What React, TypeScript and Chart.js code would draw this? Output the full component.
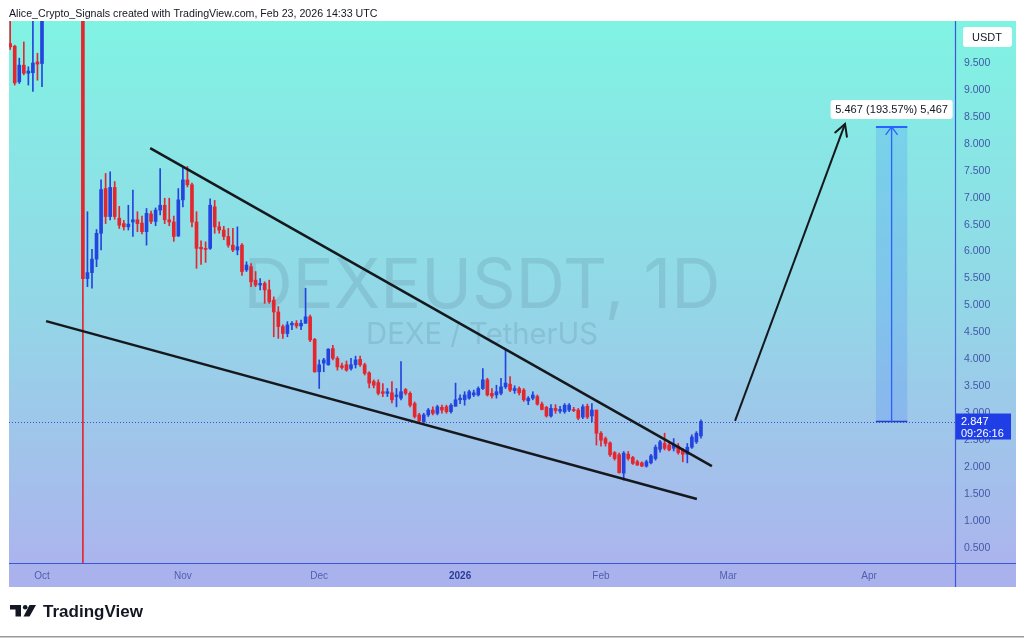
import React, { useEffect, useRef } from "react";
import { Chart, registerables } from "chart.js";

Chart.register(...registerables);

// ---- data (day offsets are counted from 2025-10-01) ----
const FIRST_DAY = -7;
const opens = [
  9.86, 9.81, 9.15, 9.46, 9.31, 9.32, 9.52, 9.49,
  10.9, 11.1, 11.6, 11.4, 11.7, 12.0, 11.6, 11.9,
  11.6,
  5.50, 5.61, 5.86, 6.34, 7.17, 6.65, 7.19, 6.62, 6.52, 6.46,
  6.55, 6.59, 6.53, 6.37, 6.70, 6.56, 6.77, 6.86, 6.59, 6.55,
  6.29, 6.96, 7.33, 7.24, 6.55, 6.08, 6.06, 6.06, 6.83, 6.46,
  6.40, 6.28, 6.12, 6.03, 6.12, 5.66, 5.72, 5.47, 5.38, 5.41,
  5.29, 5.10, 4.88, 4.61, 4.48, 4.64, 4.67, 4.62, 4.67, 4.79,
  4.37, 3.77, 3.93, 3.90, 4.20, 4.02, 3.88, 3.90, 3.83, 3.90,
  4.00, 3.90, 3.75, 3.59, 3.57, 3.40, 3.37, 3.38, 3.31, 3.28,
  3.44, 3.37, 3.18, 2.97, 2.84, 2.97, 3.06, 3.00, 3.11, 3.12,
  3.03, 3.13, 3.25, 3.25, 3.28, 3.34, 3.34, 3.46, 3.62, 3.37,
  3.34, 3.37, 3.49, 3.54, 3.42, 3.46, 3.43, 3.23, 3.28, 3.31,
  3.17, 3.11, 2.95, 3.09, 3.04, 3.03, 3.06, 3.07, 3.06, 2.93,
  3.13, 2.95, 3.06, 2.63, 2.53, 2.45, 2.27, 2.23, 1.89, 2.24,
  2.18, 2.10, 2.08, 2.02, 2.08, 2.16, 2.33, 2.44, 2.41, 2.35,
  2.39, 2.32, 2.24, 2.37, 2.47, 2.58,
];
const highs = [
  10.4, 9.83, 9.59, 9.89, 9.43, 10.4, 9.68, 11.2,
  11.4, 11.8, 12.0, 11.9, 12.3, 12.4, 12.1, 12.2,
  11.9,
  6.74, 6.04, 6.41, 7.33, 7.45, 7.48, 7.30, 6.84, 6.58, 6.86,
  7.14, 6.74, 6.66, 6.80, 6.75, 6.81, 7.54, 6.99, 6.99, 6.66,
  7.17, 7.58, 7.58, 7.27, 6.74, 6.20, 6.18, 6.98, 6.95, 6.55,
  6.47, 6.43, 6.43, 6.46, 6.15, 5.81, 5.78, 5.63, 5.50, 5.44,
  5.47, 5.16, 4.98, 4.64, 4.70, 4.70, 4.72, 4.73, 5.32, 4.82,
  4.39, 3.99, 4.02, 4.20, 4.26, 4.05, 3.93, 3.97, 4.02, 4.06,
  4.06, 3.93, 3.77, 3.62, 3.62, 3.55, 3.46, 3.59, 3.46, 3.96,
  3.46, 3.40, 3.21, 3.00, 3.00, 3.09, 3.12, 3.15, 3.15, 3.15,
  3.18, 3.56, 3.34, 3.40, 3.43, 3.43, 3.49, 3.83, 3.65, 3.46,
  3.52, 3.65, 4.17, 3.68, 3.51, 3.49, 3.46, 3.31, 3.40, 3.34,
  3.21, 3.13, 3.16, 3.16, 3.13, 3.18, 3.18, 3.11, 3.09, 3.16,
  3.17, 3.18, 3.06, 2.66, 2.56, 2.47, 2.29, 2.26, 2.29, 2.29,
  2.20, 2.13, 2.10, 2.13, 2.24, 2.41, 2.50, 2.63, 2.47, 2.53,
  2.44, 2.35, 2.44, 2.60, 2.66, 2.88,
];
const lows = [
  9.75, 9.09, 9.12, 9.28, 9.09, 8.97, 9.18, 9.06,
  10.5, 10.9, 11.2, 11.0, 11.5, 11.4, 11.3, 11.4,
  0.15,
  5.35, 5.32, 5.72, 6.03, 6.52, 6.59, 6.60, 6.43, 6.40, 6.40,
  6.28, 6.37, 6.33, 6.12, 6.52, 6.48, 6.68, 6.52, 6.48, 6.19,
  6.28, 6.83, 7.20, 6.46, 5.69, 5.76, 5.80, 6.04, 6.34, 6.34,
  6.22, 6.08, 6.00, 5.94, 5.56, 5.63, 5.35, 5.35, 5.29, 5.04,
  5.04, 4.42, 4.39, 4.39, 4.42, 4.55, 4.58, 4.55, 4.67, 4.33,
  3.76, 3.46, 3.77, 3.89, 3.99, 3.80, 3.82, 3.78, 3.80, 3.84,
  3.87, 3.71, 3.47, 3.47, 3.34, 3.31, 3.31, 3.19, 3.12, 3.25,
  3.34, 3.12, 2.91, 2.84, 2.81, 2.94, 2.97, 2.97, 3.00, 3.00,
  3.00, 3.13, 3.18, 3.15, 3.26, 3.31, 3.32, 3.44, 3.32, 3.28,
  3.28, 3.34, 3.46, 3.40, 3.37, 3.34, 3.22, 3.16, 3.25, 3.15,
  3.06, 2.93, 2.93, 3.00, 3.00, 3.00, 3.03, 3.03, 2.88, 2.90,
  2.90, 2.84, 2.41, 2.39, 2.39, 2.20, 2.13, 1.89, 1.76, 2.13,
  2.05, 2.03, 2.01, 2.00, 2.06, 2.13, 2.28, 2.32, 2.30, 2.30,
  2.24, 2.10, 2.08, 2.35, 2.44, 2.54,
];
const closes = [
  9.80, 9.13, 9.46, 9.31, 9.35, 9.50, 9.48, 10.9,
  11.1, 11.6, 11.4, 11.7, 12.0, 11.6, 11.9, 11.6,
  5.50,
  5.61, 5.86, 6.34, 7.15, 6.65, 7.19, 6.65, 6.49, 6.46, 6.51,
  6.59, 6.52, 6.37, 6.71, 6.56, 6.77, 6.86, 6.59, 6.55, 6.28,
  6.96, 7.33, 7.24, 6.55, 6.06, 6.05, 6.04, 6.86, 6.46, 6.40,
  6.28, 6.12, 6.03, 6.09, 5.63, 5.75, 5.44, 5.38, 5.41, 5.29,
  5.07, 4.88, 4.61, 4.48, 4.64, 4.67, 4.62, 4.67, 4.79, 4.36,
  3.77, 3.90, 3.99, 4.19, 4.02, 3.86, 3.85, 3.80, 3.90, 3.99,
  3.90, 3.74, 3.56, 3.52, 3.37, 3.37, 3.40, 3.25, 3.34, 3.40,
  3.37, 3.15, 2.94, 2.86, 2.97, 3.06, 3.00, 3.12, 3.06, 3.03,
  3.15, 3.25, 3.28, 3.34, 3.40, 3.38, 3.46, 3.62, 3.34, 3.32,
  3.40, 3.49, 3.56, 3.43, 3.46, 3.38, 3.25, 3.28, 3.34, 3.17,
  3.07, 2.95, 3.09, 3.05, 3.07, 3.15, 3.15, 3.05, 2.91, 3.12,
  2.93, 3.06, 2.63, 2.50, 2.44, 2.23, 2.16, 1.90, 2.26, 2.16,
  2.07, 2.04, 2.02, 2.10, 2.21, 2.37, 2.47, 2.35, 2.32, 2.41,
  2.27, 2.24, 2.37, 2.56, 2.63, 2.847,
];

const monthTickDays = [0, 31, 61, 92, 123, 151, 182];
const monthTickLabels = ["Oct", "Nov", "Dec", "2026", "Feb", "Mar", "Apr"];
const priceTicks = [0.5, 1, 1.5, 2, 2.5, 3, 3.5, 4, 4.5, 5, 5.5, 6, 6.5, 7, 7.5, 8, 8.5, 9, 9.5];

const upperTrendline = [{ x: 23.8, y: 7.92 }, { x: 147.4, y: 2.02 }];
const lowerTrendline = [{ x: 0.9, y: 4.71 }, { x: 144.1, y: 1.41 }];
const projectionArrow = [{ x: 152.5, y: 2.86 }, { x: 176.7, y: 8.37 }];
const measureDays = [183.5, 190.4];
const measureFrom = 2.847;
const measureTo = 8.314;
const lastPrice = 2.847;
const countdown = "09:26:16";
const measureLabel = "5.467 (193.57%) 5,467";
const headerText = "Alice_Crypto_Signals created with TradingView.com, Feb 23, 2026 14:33 UTC";
const symbolText = "DEXEUSDT, 1D";
const pairText = "DEXE / TetherUS";
const unitText = "USDT";
const brandText = "TradingView";

const X_MIN = -7.26;
const X_MAX = 200.9;
const Y_MIN = 0.2217;
const Y_MAX = 10.279;

const UP = "#2444df";
const DOWN = "#e4262e";
const AXIS_LINE = "#3b56d9";
const FONT = "'Liberation Sans', Arial, sans-serif";

function fitSize(ctx: CanvasRenderingContext2D, text: string, width: number, weight: string, family: string) {
  ctx.font = `${weight} 100px ${family}`;
  const w = ctx.measureText(text).width;
  return (100 * width) / w;
}

function rrect(ctx: CanvasRenderingContext2D, x: number, y: number, w: number, h: number, r: number) {
  ctx.beginPath();
  ctx.moveTo(x + r, y);
  ctx.lineTo(x + w - r, y);
  ctx.quadraticCurveTo(x + w, y, x + w, y + r);
  ctx.lineTo(x + w, y + h - r);
  ctx.quadraticCurveTo(x + w, y + h, x + w - r, y + h);
  ctx.lineTo(x + r, y + h);
  ctx.quadraticCurveTo(x, y + h, x, y + h - r);
  ctx.lineTo(x, y + r);
  ctx.quadraticCurveTo(x, y, x + r, y);
  ctx.closePath();
}

export default function App() {
  const ref = useRef<HTMLCanvasElement>(null);

  useEffect(() => {
    const canvas = ref.current;
    if (!canvas) return;
    const days = opens.map((_, i) => FIRST_DAY + i);
    const colors = days.map((_, i) => (closes[i] >= opens[i] ? UP : DOWN));
    const wickData = days.map((d, i) => ({ x: d, y: [lows[i], highs[i]] }));
    const bodyData = days.map((d, i) => ({ x: d, y: [opens[i], closes[i]] }));

    const decor = {
      id: "decor",
      beforeDraw(chart: any) {
        const { ctx, chartArea: ca } = chart;
        const xs = chart.scales.x;
        const ys = chart.scales.y;
        ctx.save();
        ctx.fillStyle = "#ffffff";
        ctx.fillRect(0, 0, chart.width, chart.height);
        const g = ctx.createLinearGradient(0, ca.top, 0, xs.bottom);
        g.addColorStop(0, "#80f3e3");
        g.addColorStop(0.5, "#93d7e7");
        g.addColorStop(1, "#aeb1ee");
        ctx.fillStyle = g;
        ctx.fillRect(ca.left, ca.top, ys.right - ca.left, xs.bottom - ca.top);
        ctx.fillStyle = "#aab2ed";
        ctx.fillRect(ca.left, xs.top, ys.right - ca.left, xs.bottom - xs.top);
        ctx.restore();
      },
      beforeDatasetsDraw(chart: any) {
        const { ctx, chartArea: ca } = chart;
        const ys = chart.scales.y;
        const cx = (ca.left + ca.right) / 2;
        const cy = (ca.top + ca.bottom) / 2;
        ctx.save();
        ctx.fillStyle = "rgba(70,100,125,0.17)";
        ctx.textAlign = "center";
        ctx.textBaseline = "alphabetic";
        const s1 = fitSize(ctx, symbolText, 477, "normal", "Inter, 'Liberation Sans', sans-serif");
        ctx.font = `normal ${s1}px Inter, 'Liberation Sans', sans-serif`;
        ctx.fillText(symbolText, cx, cy + 16);
        const s2 = fitSize(ctx, pairText, 232, "normal", "Inter, 'Liberation Sans', sans-serif");
        ctx.font = `normal ${s2}px Inter, 'Liberation Sans', sans-serif`;
        ctx.fillText(pairText, cx, cy + 52);
        // last price dotted line
        const py = Math.round(ys.getPixelForValue(lastPrice)) + 0.5;
        ctx.strokeStyle = "#3050e0";
        ctx.lineWidth = 1;
        ctx.setLineDash([1, 2]);
        ctx.beginPath();
        ctx.moveTo(ca.left, py);
        ctx.lineTo(ca.right, py);
        ctx.stroke();
        ctx.restore();
      },
      afterDraw(chart: any) {
        const { ctx, chartArea: ca } = chart;
        const xs = chart.scales.x;
        const ys = chart.scales.y;
        const px = (d: number) => xs.getPixelForValue(d);
        const pyv = (v: number) => ys.getPixelForValue(v);
        ctx.save();

        // axis lines
        ctx.strokeStyle = AXIS_LINE;
        ctx.lineWidth = 1.2;
        ctx.beginPath();
        ctx.moveTo(ys.left + 0.5, ca.top);
        ctx.lineTo(ys.left + 0.5, xs.bottom);
        ctx.moveTo(ca.left, xs.top + 0.5);
        ctx.lineTo(ys.right, xs.top + 0.5);
        ctx.stroke();

        // measure tool
        const mx0 = px(measureDays[0]);
        const mx1 = px(measureDays[1]);
        const mTop = pyv(measureTo);
        const mBot = pyv(measureFrom);
        const mcx = (mx0 + mx1) / 2;
        ctx.fillStyle = "rgba(41,98,255,0.17)";
        ctx.fillRect(mx0, mTop, mx1 - mx0, mBot - mTop);
        ctx.strokeStyle = "#2962ff";
        ctx.lineWidth = 2;
        ctx.beginPath();
        ctx.moveTo(mx0, mTop);
        ctx.lineTo(mx1, mTop);
        ctx.stroke();
        ctx.strokeStyle = "#2040c8";
        ctx.lineWidth = 1.5;
        ctx.beginPath();
        ctx.moveTo(mx0, mBot);
        ctx.lineTo(mx1, mBot);
        ctx.stroke();
        ctx.strokeStyle = "#2962ff";
        ctx.lineWidth = 1.3;
        ctx.beginPath();
        ctx.moveTo(mcx, mBot);
        ctx.lineTo(mcx, mTop);
        ctx.moveTo(mcx - 6, mTop + 8);
        ctx.lineTo(mcx, mTop);
        ctx.lineTo(mcx + 6, mTop + 8);
        ctx.stroke();

        // measure label
        const ls = fitSize(ctx, measureLabel, 113, "normal", FONT);
        ctx.font = `normal ${ls}px ${FONT}`;
        const lw = 122;
        const lh = 19;
        ctx.fillStyle = "#ffffff";
        rrect(ctx, mcx - lw / 2, mTop - 8 - lh, lw, lh, 3);
        ctx.fill();
        ctx.fillStyle = "#131722";
        ctx.textAlign = "center";
        ctx.textBaseline = "middle";
        ctx.fillText(measureLabel, mcx, mTop - 8 - lh / 2 + 0.5);

        // arrowhead on projection arrow
        const ax0 = px(projectionArrow[0].x);
        const ay0 = pyv(projectionArrow[0].y);
        const ax1 = px(projectionArrow[1].x);
        const ay1 = pyv(projectionArrow[1].y);
        const ang = Math.atan2(ay1 - ay0, ax1 - ax0);
        const hl = 13;
        const spread = 0.5;
        ctx.strokeStyle = "#15181c";
        ctx.lineWidth = 2;
        ctx.lineCap = "round";
        ctx.beginPath();
        ctx.moveTo(ax1 - hl * Math.cos(ang - spread), ay1 - hl * Math.sin(ang - spread));
        ctx.lineTo(ax1, ay1);
        ctx.lineTo(ax1 - hl * Math.cos(ang + spread), ay1 - hl * Math.sin(ang + spread));
        ctx.stroke();

        // last price label on axis
        const lp = pyv(lastPrice);
        ctx.fillStyle = "#1f3ee6";
        ctx.fillRect(ys.left + 1, lp - 8, 55, 26);
        ctx.fillStyle = "#ffffff";
        ctx.textAlign = "left";
        ctx.textBaseline = "middle";
        ctx.font = `normal 11px ${FONT}`;
        ctx.fillText(lastPrice.toFixed(3), ys.left + 6, lp);
        ctx.fillText(countdown, ys.left + 6, lp + 12);

        // unit box
        ctx.fillStyle = "#ffffff";
        rrect(ctx, ys.left + 8, ca.top + 6, 49, 20, 3);
        ctx.fill();
        ctx.fillStyle = "#131722";
        ctx.textAlign = "center";
        ctx.font = `normal 11px ${FONT}`;
        ctx.fillText(unitText, ys.left + 32, ca.top + 16.5);

        // header
        const hs = fitSize(ctx, headerText, 369, "normal", FONT);
        ctx.font = `normal ${hs}px ${FONT}`;
        ctx.fillStyle = "#131722";
        ctx.textAlign = "left";
        ctx.textBaseline = "alphabetic";
        ctx.fillText(headerText, 9, 17);

        // footer brand
        ctx.fillStyle = "#131722";
        ctx.fillRect(10, 605, 11, 4.5);
        ctx.fillRect(15.5, 605, 5.5, 11.5);
        ctx.beginPath();
        ctx.arc(25.2, 607.2, 2.3, 0, Math.PI * 2);
        ctx.fill();
        ctx.beginPath();
        ctx.moveTo(29.5, 605);
        ctx.lineTo(36, 605);
        ctx.lineTo(29.5, 616.5);
        ctx.lineTo(23.5, 616.5);
        ctx.closePath();
        ctx.fill();
        const bs = fitSize(ctx, brandText, 100, "bold", FONT);
        ctx.font = `bold ${bs}px ${FONT}`;
        ctx.fillText(brandText, 43, 616.5);

        // bottom rule
        ctx.fillStyle = "#9a9a9a";
        ctx.fillRect(0, 636, chart.width, 1.5);
        ctx.restore();
      },
    };

    const chart = new Chart(canvas, {
      type: "bar",
      data: {
        datasets: [
          { type: "line", data: upperTrendline, borderColor: "#15181c", borderWidth: 2.5, pointRadius: 0, order: 0 } as any,
          { type: "line", data: lowerTrendline, borderColor: "#15181c", borderWidth: 2.5, pointRadius: 0, order: 0 } as any,
          { type: "line", data: projectionArrow, borderColor: "#15181c", borderWidth: 2, pointRadius: 0, order: 0 } as any,
          { type: "bar", data: wickData, backgroundColor: colors, barThickness: 1, grouped: false, borderWidth: 0, order: 2 } as any,
          { type: "bar", data: bodyData, backgroundColor: colors, barThickness: 3, grouped: false, borderWidth: 0, minBarLength: 1, order: 1 } as any,
        ],
      },
      options: {
        animation: false,
        responsive: false,
        maintainAspectRatio: false,
        layout: { padding: { left: 9, top: 21, right: 8, bottom: 51 } },
        plugins: { legend: { display: false }, tooltip: { enabled: false } },
        scales: {
          x: {
            type: "linear",
            min: X_MIN,
            max: X_MAX,
            offset: false,
            grid: { display: false, drawTicks: false, offset: false },
            border: { display: false },
            afterBuildTicks: (s: any) => {
              s.ticks = monthTickDays.map((v) => ({ value: v }));
            },
            afterFit: (s: any) => {
              s.height = 24;
            },
            ticks: {
              autoSkip: false,
              maxRotation: 0,
              padding: 7,
              color: (c: any) => (c.tick && c.tick.value === 92 ? "#2a3c96" : "#4f60ae"),
              font: (c: any) => ({ family: FONT, size: 10, weight: c.tick && c.tick.value === 92 ? "bold" : "normal" }),
              callback: (v: any) => {
                const i = monthTickDays.indexOf(Number(v));
                return i >= 0 ? monthTickLabels[i] : "";
              },
            },
          },
          y: {
            type: "linear",
            position: "right",
            min: Y_MIN,
            max: Y_MAX,
            beginAtZero: false,
            grid: { display: false, drawTicks: false },
            border: { display: false },
            afterBuildTicks: (s: any) => {
              s.ticks = priceTicks.map((v) => ({ value: v }));
            },
            afterFit: (s: any) => {
              s.width = 61;
            },
            ticks: {
              padding: 9,
              color: "#4358a8",
              font: { family: FONT, size: 10.5 },
              callback: (v: any) => Number(v).toFixed(3),
            },
          },
        },
      } as any,
      plugins: [decor],
    });
    return () => chart.destroy();
  }, []);

  return (
    <div style={{ position: "absolute", left: 0, top: 0, width: 1024, height: 638, background: "#ffffff" }}>
      <canvas ref={ref} width={1024} height={638} style={{ display: "block", width: 1024, height: 638 }} />
    </div>
  );
}
